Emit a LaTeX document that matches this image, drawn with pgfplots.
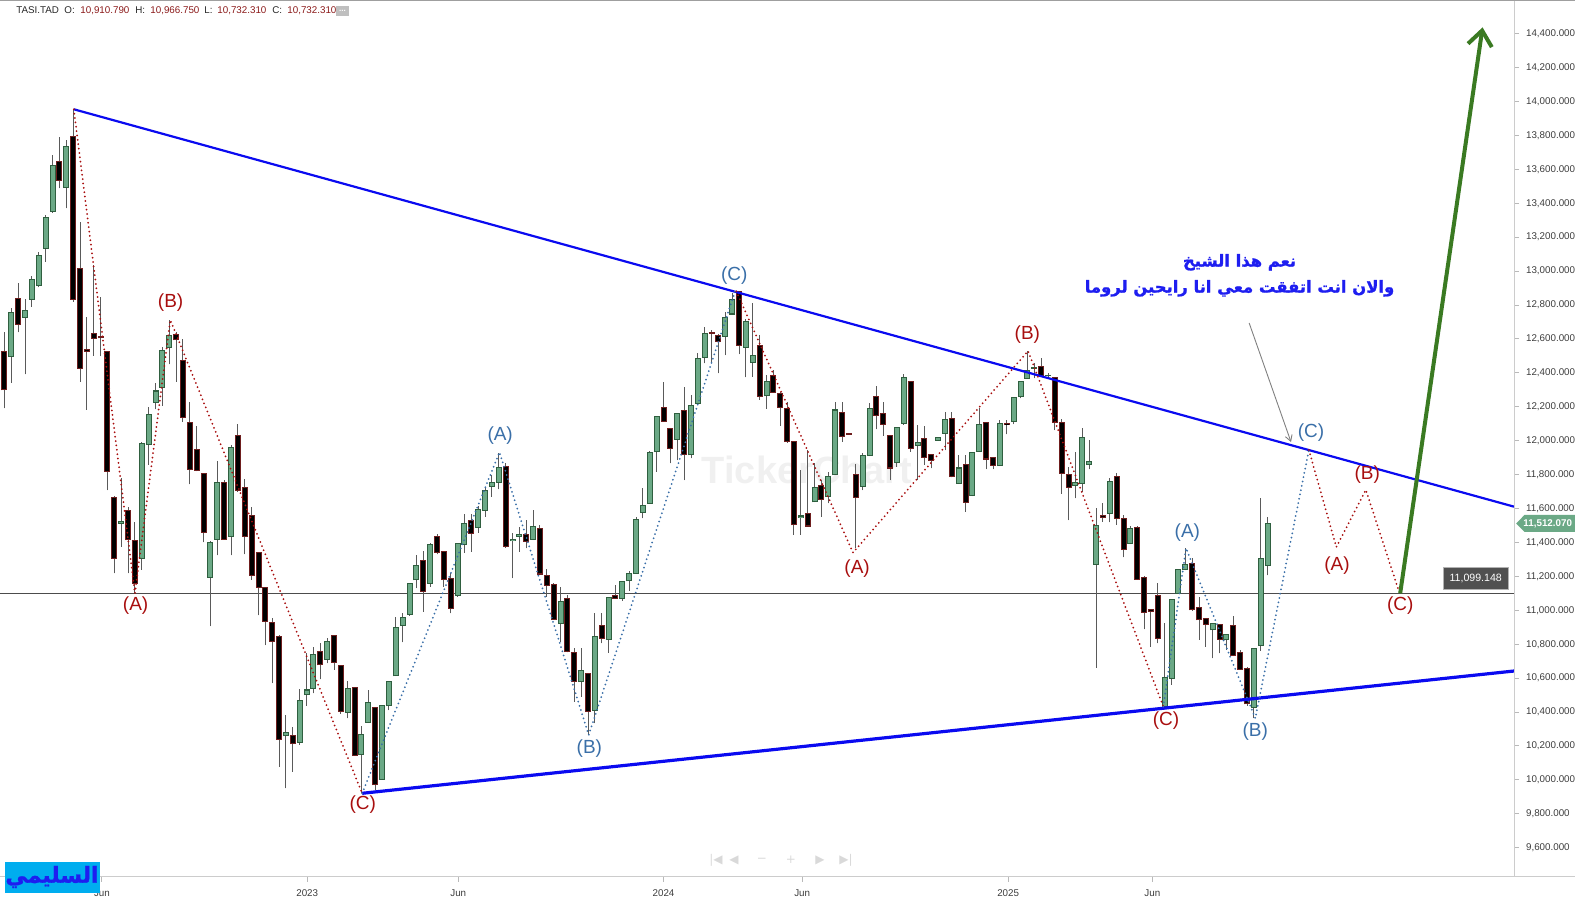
\documentclass[border=0pt]{standalone}
\usepackage{pgfplots}
\pgfplotsset{compat=1.18}
\usepackage{pgfplotstable}
\usepackage{fontspec}
\setmainfont{Liberation Sans}
\newfontfamily\arabicfont[Script=Arabic, FakeBold=1.2]{DejaVu Sans}
\newfontfamily\symfont{DejaVu Sans}
\TeXXeTstate=1
\usetikzlibrary{arrows.meta}
\definecolor{bullfill}{HTML}{6BA986}
\definecolor{bulledge}{HTML}{2F5F3F}
\definecolor{bearfill}{HTML}{000000}
\definecolor{bearedge}{HTML}{6E1E1E}
\definecolor{wick}{HTML}{5A5A5A}
\definecolor{trendblue}{HTML}{0A0AF0}
\definecolor{wavered}{HTML}{A80E0E}
\definecolor{waveblue}{HTML}{3A6FA8}
\definecolor{arrowgreen}{HTML}{3A7A22}
\definecolor{noteblue}{HTML}{1E1EF0}
\definecolor{labelgray}{HTML}{3C3C3C}
\definecolor{valred}{HTML}{8B1A1A}
\definecolor{boxgray}{HTML}{505050}
\definecolor{pricegreen}{HTML}{6BA986}

\pgfplotstableread{
x o h l c
1 12495 12780 12342 12757
3 12727 12833 12391 12769
4 12833 12971 12790 12951
5 12916 13115 12904 13093
6 13134 13331 13056 13317
7 13352 13683 13345 13624
9 13494 13773 13370 13736
17 11513 11778 11375 11521
20 11306 11994 11238 11984
21 11979 12197 11857 12155
22 12226 12338 12185 12293
23 12315 12554 12205 12533
24 12551 12712 12450 12621
30 11194 11411 10907 11401
31 11419 11878 11324 11755
33 11436 11975 11324 11961
41 10259 10383 9950 10281
43 10222 10534 10206 10471
44 10501 10746 10436 10530
45 10540 10786 10510 10740
47 10711 10835 10687 10815
50 10398 10583 10363 10540
52 10151 10320 9925 10269
53 10340 10530 10340 10457
55 10003 10440 10003 10440
56 10436 10579 10412 10579
57 10613 10963 10613 10898
58 10911 10982 10811 10959
59 10976 11163 10967 11159
60 11179 11326 11130 11263
62 11159 11395 11139 11389
66 11090 11395 11080 11395
67 11389 11568 11340 11513
69 11489 11615 11458 11595
70 11591 11729 11552 11709
71 11729 11798 11670 11755
72 11755 11929 11713 11843
74 11409 11454 11189 11418
75 11438 11493 11346 11448
77 11418 11591 11415 11493
81 10923 11139 10815 11051
84 10579 10776 10491 10644
86 10412 10986 10334 10845
88 10829 11076 10750 11076
90 11071 11169 11057 11169
91 11173 11234 11114 11218
92 11218 11548 11218 11536
93 11578 11723 11542 11617
94 11631 11941 11631 11929
95 11935 12142 11817 12142
98 12008 12161 11886 12161
100 11916 12269 11896 12205
101 12220 12515 12220 12486
102 12492 12672 12456 12633
105 12617 12761 12505 12727
106 12747 12869 12747 12833
108 12550 12716 12374 12702
109 12462 12810 12378 12501
111 12264 12387 12187 12348
116 11548 11827 11444 11556
118 11640 11867 11640 11725
120 11670 11817 11631 11788
121 11798 12230 11798 12181
125 11729 11925 11709 11912
126 11912 12224 11912 12191
130 11870 12079 11847 12079
131 12102 12391 12093 12374
133 11973 12093 11768 11990
136 12004 12022 12000 12018
137 12043 12171 11945 12126
139 11749 11916 11749 11839
141 11676 11931 11676 11931
142 11939 12191 11939 12098
145 11853 12122 11853 12102
147 12114 12256 12098 12256
148 12263 12350 12250 12350
149 12368 12530 12368 12415
150 12427 12456 12368 12433
152 12383 12400 12370 12387
156 11735 11935 11660 11754
157 11749 12073 11699 12020
158 11861 12004 11831 11878
159 11271 11601 10660 11499
161 11572 11778 11519 11762
164 11395 11497 11395 11483
169 10432 10923 10428 10603
170 10599 11065 10560 11065
171 11100 11242 11100 11242
172 11238 11365 11238 11271
176 10884 10923 10717 10923
178 10825 10858 10766 10858
182 10428 10776 10363 10776
183 10793 11660 10760 11306
184 11265 11552 11206 11512.07
}\bull

\pgfplotstableread{
x o h l c
0 12525 12639 12191 12299
2 12839 12928 12639 12686
8 13647 13789 13488 13535
10 13795 13954 12820 12833
11 13014 13287 12348 12427
12 12535 12727 12181 12527
13 12633 13036 12500 12604
14 12612 12849 12499 12606
15 12525 12530 11709 11821
16 11666 11674 11218 11306
18 11588 11607 11218 11415
19 11411 11523 11100 11159
25 12627 12643 12348 12594
26 12474 12598 12112 12138
27 12108 12226 11743 11831
28 11949 12087 11820 11825
29 11808 11812 11401 11460
32 11755 11768 11415 11419
34 12032 12097 11700 11705
35 11725 11772 11330 11436
36 11560 11609 11179 11206
37 11342 11345 10970 11136
38 11136 11140 10794 10935
39 10929 10953 10570 10817
40 10845 10855 10078 10241
42 10261 10314 10049 10212
46 10756 10805 10593 10678
48 10852 10855 10648 10693
49 10676 10680 10389 10404
51 10546 10550 10142 10145
54 10428 10432 9941 9970
61 11293 11348 10992 11112
63 11434 11448 11330 11342
64 11346 11350 11139 11183
65 11185 11218 10982 11012
68 11529 11568 11346 11454
73 11847 11871 11370 11375
76 11448 11532 11365 11405
78 11483 11503 11210 11214
79 11208 11241 11080 11149
80 11153 11163 10943 10947
82 11071 11090 10752 10756
83 10750 10776 10461 10579
85 10628 10632 10265 10402
87 10909 10982 10805 10835
89 11090 11149 11067 11071
96 12197 12348 12112 12116
97 12073 12077 11866 11955
99 12177 12319 11768 11916
103 12639 12653 12456 12633
104 12623 12627 12397 12584
107 12879 12885 12511 12564
110 12560 12623 12240 12260
112 12383 12417 12283 12287
113 12279 12289 12087 12197
114 12191 12230 11988 11994
115 11994 11998 11444 11503
117 11568 11945 11493 11497
119 11735 11768 11552 11656
122 12165 12230 11994 12024
123 12043 12045 12035 12037
124 11802 11863 11370 11666
127 12260 12324 12067 12146
128 12161 12226 12028 12096
129 12030 12034 11768 11839
132 12348 12352 11935 11955
134 12014 12087 11857 11902
135 11916 11920 11837 11886
138 12132 12171 11784 11788
140 11861 11916 11582 11637
143 12108 12112 11833 11892
144 11898 11902 11833 11855
146 12102 12122 12037 12094
151 12438 12486 12383 12387
153 12374 12378 12063 12108
154 12108 12130 11686 11808
155 11802 11847 11532 11725
160 11558 11635 11523 11550
162 11788 11808 11503 11542
163 11542 11562 11312 11359
165 11489 11497 11179 11183
166 11194 11202 10888 10988
167 11002 11006 10786 10994
168 11090 11159 10805 10835
173 11277 11306 10998 11002
174 11018 11080 10825 10943
175 10953 10957 10786 10919
177 10917 10921 10746 10829
179 10910.79 10966.75 10732.31 10732.31
180 10750 10766 10648 10652
181 10658 10668 10436 10448
}\bear

\pgfplotsset{
  wickstyle/.style={only marks, mark=*, mark size=0pt, mark options={draw=none, fill=none}, forget plot,
    error bars/.cd, y dir=plus, y explicit, error mark=none,
    error bar style={draw=wick, line width=0.5pt}},
  bodystyle/.style 2 args={only marks, mark=*, mark size=0pt, mark options={draw=none, fill=none}, forget plot,
    error bars/.cd, y dir=plus, y explicit, error mark=none,
    error bar style={draw=#1, line width=#2}},
  redwave/.style={draw=wavered, line width=1pt, line cap=round, dash pattern=on 0pt off 2.2pt},
  bluewave/.style={draw=waveblue, line width=1pt, line cap=round, dash pattern=on 0pt off 2.2pt},
}

\begin{document}
\begin{tikzpicture}
\begin{axis}[
  at={(0pt,11pt)}, anchor=south west,
  scale only axis, width=757pt, height=438pt,
  xmin=-0.655, xmax=219.88, ymin=9427.5, ymax=14592.6,
  axis x line*=bottom, axis y line*=right,
  axis line style={draw=none},
  clip=false,
  tick align=outside, major tick length=2.5pt,
  tick style={draw=gray!55, line width=0.5pt},
  xtick={14.2,44.1,66.1,96.0,116.2,146.2,167.2},
  xticklabels={Jun,2023,Jun,2024,Jun,2025,Jun},
  ytick={9600,9800,...,14400},
  scaled y ticks=false,
  tick label style={font=\fontsize{4.9}{6}\selectfont, text=labelgray},
  yticklabel style={anchor=west, /pgf/number format/.cd, fixed, fixed zerofill, precision=3, 1000 sep={,}, assume math mode=true},
  xticklabel style={yshift=-0.5pt},
]
% watermark
\node[text=black!6, font=\bfseries\fontsize{19}{20}\selectfont] at (axis cs:116.9,11826) {TickerChart};

% horizontal price line
\addplot[draw=black!70, line width=0.5pt] coordinates {(-0.655,11099.148) (219.88,11099.148)};

% wicks
\addplot[wickstyle] table[x=x, y=l, y error plus expr=\thisrow{h}-\thisrow{l}] {\bull};
\addplot[wickstyle] table[x=x, y=l, y error plus expr=\thisrow{h}-\thisrow{l}] {\bear};
% bodies
\addplot[bodystyle={bulledge}{3pt}] table[x=x, y expr={min(\thisrow{o},\thisrow{c})-3}, y error plus expr={abs(\thisrow{c}-\thisrow{o})+6}] {\bull};
\addplot[bodystyle={bullfill}{2pt}] table[x=x, y expr={min(\thisrow{o},\thisrow{c})+3}, y error plus expr={max(abs(\thisrow{c}-\thisrow{o})-6,0)}] {\bull};
\addplot[bodystyle={bearedge}{3pt}] table[x=x, y expr={min(\thisrow{o},\thisrow{c})-3}, y error plus expr={abs(\thisrow{c}-\thisrow{o})+6}] {\bear};
\addplot[bodystyle={bearfill}{2pt}] table[x=x, y expr={min(\thisrow{o},\thisrow{c})+3}, y error plus expr={max(abs(\thisrow{c}-\thisrow{o})-6,0)}] {\bear};

% trend lines
\addplot[draw=trendblue, line width=1.1pt] coordinates {(10.1,13954) (219.88,11611)};
\addplot[draw=trendblue, line width=1.6pt] coordinates {(52.1,9921) (219.88,10642)};

% wave lines
\addplot[redwave] coordinates {(10.1,13954) (19,11100) (24.15,12712) (52.1,9921)};
\addplot[bluewave] coordinates {(52.1,9921) (72.1,11932) (85.1,10265) (106.4,12878)};
\addplot[redwave] coordinates {(106.6,12881) (123.6,11340) (149.1,12529) (168.8,10432)};
\addplot[bluewave] coordinates {(168.8,10432) (172.1,11366) (182.2,10363) (190.0,11945)};
\addplot[redwave] coordinates {(190.0,11945) (194.0,11373) (198.3,11710) (203.1,11114)};

% green arrow
\addplot[draw=arrowgreen, line width=2pt, -{Straight Barb[length=7.5pt, width=12pt, line width=2pt]}] coordinates {(203.3,11100) (215.3,14437)};
% note arrow
\addplot[draw=gray, line width=0.45pt, -{Straight Barb[length=3pt, width=3.5pt, line width=0.45pt]}] coordinates {(181.3,12694) (187.4,11992)};

% wave labels
\begin{scope}[every node/.style={font=\fontsize{9.5}{10}\selectfont}]
\node[text=wavered] at (axis cs:19.1,11027) {(A)};
\node[text=wavered] at (axis cs:24.2,12815) {(B)};
\node[text=wavered] at (axis cs:52.2,9854) {(C)};
\node[text=wavered] at (axis cs:124.2,11247) {(A)};
\node[text=wavered] at (axis cs:149.0,12626) {(B)};
\node[text=wavered] at (axis cs:169.2,10352) {(C)};
\node[text=wavered] at (axis cs:194.1,11264) {(A)};
\node[text=wavered] at (axis cs:198.5,11803) {(B)};
\node[text=wavered] at (axis cs:203.3,11027) {(C)};
\node[text=waveblue] at (axis cs:72.2,12028) {(A)};
\node[text=waveblue] at (axis cs:85.2,10186) {(B)};
\node[text=waveblue] at (axis cs:106.3,12976) {(C)};
\node[text=waveblue] at (axis cs:172.3,11459) {(A)};
\node[text=waveblue] at (axis cs:182.2,10287) {(B)};
\node[text=waveblue] at (axis cs:190.3,12045) {(C)};
\end{scope}

% arabic note
\node[text=noteblue, font=\arabicfont\bfseries\fontsize{8.2}{13}\selectfont, align=center] at (axis cs:179.9,12975)
  {\beginR نعم هذا الشيخ\endR\\\beginR والان انت اتفقت معي انا رايحين لروما\endR};

% price boxes
\node[fill=boxgray, draw=gray!60, line width=0.4pt, text=white, font=\fontsize{5.3}{6}\selectfont, minimum width=32.5pt, minimum height=11pt, inner sep=0pt] at (axis cs:214.3,11190) {11,099.148};
\fill[pricegreen] (axis cs:220.2,11512) -- (axis cs:221.4,11562) -- (axis cs:228.9,11562) -- (axis cs:228.9,11462) -- (axis cs:221.4,11462) -- cycle;
\node[text=white, font=\bfseries\fontsize{4.9}{6}\selectfont, anchor=west, inner sep=0pt] at (axis cs:221.2,11512) {11,512.070};
\end{axis}

% frame lines
\draw[draw=gray!40, line width=0.5pt] (0,11pt) -- (787.5pt,11pt);
\draw[draw=gray!40, line width=0.5pt] (757pt,11pt) -- (757pt,449.5pt);
\draw[draw=gray!75, line width=0.6pt] (0,449.2pt) -- (787.5pt,449.2pt);

% header text
\begin{scope}[every node/.style={anchor=base west, inner sep=0pt, font=\fontsize{4.9}{6}\selectfont}]
\node[text=black!85] at (8pt,442.5pt) {TASI.TAD};
\node[text=black!85] at (32pt,442.5pt) {O:};
\node[text=valred] at (40pt,442.5pt) {10,910.790};
\node[text=black!85] at (67.5pt,442.5pt) {H:};
\node[text=valred] at (75pt,442.5pt) {10,966.750};
\node[text=black!85] at (102pt,442.5pt) {L:};
\node[text=valred] at (108.5pt,442.5pt) {10,732.310};
\node[text=black!85] at (136pt,442.5pt) {C:};
\node[text=valred] at (143.5pt,442.5pt) {10,732.310};
\end{scope}
\fill[gray!50] (168pt,441.5pt) rectangle (174.5pt,446.5pt);
\node[text=white, font=\bfseries\fontsize{4}{5}\selectfont, inner sep=0pt] at (171.25pt,444.2pt) {...};

% navigation icons
\begin{scope}[every node/.style={text=gray!30, font=\symfont\fontsize{6}{7}\selectfont, inner sep=0pt}]
\node at (358pt,19.5pt) {|◀};
\node at (367pt,19.5pt) {◀};
\node at (381pt,19.5pt) {−};
\node at (395.5pt,19.5pt) {+};
\node at (410pt,19.5pt) {▶};
\node at (423pt,19.5pt) {▶|};
\end{scope}

% signature box
\fill[cyan] (2.5pt,3pt) rectangle (49.75pt,18.5pt);
\node[text=noteblue, font=\arabicfont\bfseries\fontsize{11}{12}\selectfont, inner sep=0pt] at (26pt,11pt) {\beginR السليمي\endR};

\pgfresetboundingbox
\path[use as bounding box] (0,0) rectangle (787.5pt,449.5pt);
\end{tikzpicture}
\end{document}
